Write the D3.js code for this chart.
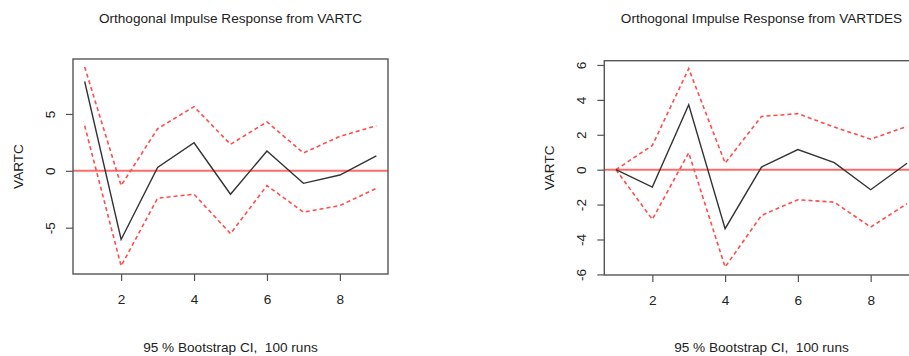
<!DOCTYPE html>
<html>
<head>
<meta charset="utf-8">
<script src="https://cdn.jsdelivr.net/npm/d3@7"></script>
<style>
  body { margin: 0; background: #fff; }
  svg text { font-family: "Liberation Sans", Arial, sans-serif; fill: #222; white-space: pre; }
</style>
</head>
<body>
<svg id="chart" width="909" height="356"></svg>
<script>
// horizon steps
var steps = [1, 2, 3, 4, 5, 6, 7, 8, 9];
var xTicks = [2, 4, 6, 8];

// response of VARTC to VARTC shock
var irfA   = [7.85, -6.04, 0.3, 2.47, -2.06, 1.74, -1.1, -0.37, 1.31];
var upperA = [9.13, -1.3, 3.7, 5.64, 2.33, 4.3, 1.57, 3.03, 3.96];
var lowerA = [3.96, -8.37, -2.41, -2.06, -5.52, -1.3, -3.63, -3.05, -1.54];
var yTicksA = [-5, 0, 5];

// response of VARTC to VARTDES shock
var irfB   = [0, -1.0, 3.72, -3.38, 0.15, 1.15, 0.4, -1.15, 0.37];
var upperB = [0, 1.39, 5.79, 0.38, 3.05, 3.21, 2.44, 1.75, 2.48];
var lowerB = [0, -2.85, 0.97, -5.58, -2.62, -1.72, -1.86, -3.29, -1.95];
var yTicksB = [-6, -4, -2, 0, 2, 4, 6];

var fontSize = "13.6px";
var svg = d3.select("#chart");

// R style 4% padding on both ends
function padded(lo, hi) {
    var p = (hi - lo) * 0.04;
    return [lo - p, hi + p];
}

function drawPanel(opt) {
    var g = svg.append("g");
    var box = opt.box;

    var x = d3.scaleLinear()
        .domain(padded(d3.min(steps), d3.max(steps)))
        .range([box.left, box.right]);

    var all = opt.irf.concat(opt.upper, opt.lower);
    var y = d3.scaleLinear()
        .domain(padded(d3.min(all), d3.max(all)))
        .range([box.bottom, box.top]);

    var clipId = "clip" + opt.id;
    g.append("clipPath").attr("id", clipId)
        .append("rect")
        .attr("x", box.left).attr("y", box.top)
        .attr("width", box.right - box.left)
        .attr("height", box.bottom - box.top);

    var plot = g.append("g").attr("clip-path", "url(#" + clipId + ")");

    var line = d3.line()
        .x(function(d, i) { return x(steps[i]); })
        .y(function(d) { return y(d); });

    // zero line
    plot.append("line")
        .attr("x1", box.left).attr("x2", box.right)
        .attr("y1", y(0)).attr("y2", y(0))
        .style("stroke", "#ff6b6b")
        .style("stroke-width", 2);

    // bootstrap bands
    [opt.upper, opt.lower].forEach(function(band) {
        plot.append("path")
            .datum(band)
            .attr("d", line)
            .style("fill", "none")
            .style("stroke", "#ff4d4d")
            .style("stroke-width", 1.6)
            .style("stroke-dasharray", "4,3");
    });

    // point estimate
    plot.append("path")
        .datum(opt.irf)
        .attr("d", line)
        .style("fill", "none")
        .style("stroke", "#333")
        .style("stroke-width", 1.4);

    // frame
    g.append("rect")
        .attr("x", box.left).attr("y", box.top)
        .attr("width", box.right - box.left)
        .attr("height", box.bottom - box.top)
        .style("fill", "none")
        .style("stroke", "#555")
        .style("stroke-width", 1.4);

    // x axis
    var xAxis = d3.axisBottom(x)
        .tickValues(xTicks)
        .tickSize(7)
        .tickPadding(13)
        .tickSizeOuter(0);
    var gx = g.append("g")
        .attr("transform", "translate(0," + box.bottom + ")")
        .call(xAxis);
    gx.select(".domain").remove();
    gx.selectAll("line").style("stroke", "#555").style("stroke-width", 1.2);
    gx.selectAll("text").style("font-size", fontSize).style("fill", "#222");

    // y axis, labels rotated like R
    var yAxis = d3.axisLeft(y)
        .tickValues(opt.yTicks)
        .tickSize(7)
        .tickSizeOuter(0)
        .tickFormat(function(d) { return String(d); });
    var gy = g.append("g")
        .attr("transform", "translate(" + box.left + ",0)")
        .call(yAxis);
    gy.select(".domain").remove();
    gy.selectAll("line").style("stroke", "#555").style("stroke-width", 1.2);
    gy.selectAll("text")
        .attr("x", null).attr("dy", null)
        .attr("transform", "translate(-23,0) rotate(-90)")
        .attr("dy", "0.35em")
        .style("text-anchor", "middle")
        .style("font-size", fontSize)
        .style("fill", "#222");

    var cx = (box.left + box.right) / 2;

    // title
    g.append("text")
        .attr("x", cx).attr("y", 23)
        .style("text-anchor", "middle")
        .style("font-size", fontSize)
        .text(opt.title);

    // footnote
    g.append("text")
        .attr("x", cx).attr("y", 352)
        .style("text-anchor", "middle")
        .style("font-size", fontSize)
        .text("95 % Bootstrap CI,  100 runs");

    // y label
    g.append("text")
        .attr("transform", "translate(" + (box.left - 55) + "," + ((box.top + box.bottom) / 2) + ") rotate(-90)")
        .attr("dy", "0.35em")
        .style("text-anchor", "middle")
        .style("font-size", fontSize)
        .text("VARTC");
}

drawPanel({
    id: "A",
    box: {left: 73, right: 388, top: 59, bottom: 274},
    irf: irfA, upper: upperA, lower: lowerA,
    yTicks: yTicksA,
    title: "Orthogonal Impulse Response from VARTC"
});

drawPanel({
    id: "B",
    box: {left: 604.3, right: 918.7, top: 60.7, bottom: 275},
    irf: irfB, upper: upperB, lower: lowerB,
    yTicks: yTicksB,
    title: "Orthogonal Impulse Response from VARTDES"
});
</script>
</body>
</html>
